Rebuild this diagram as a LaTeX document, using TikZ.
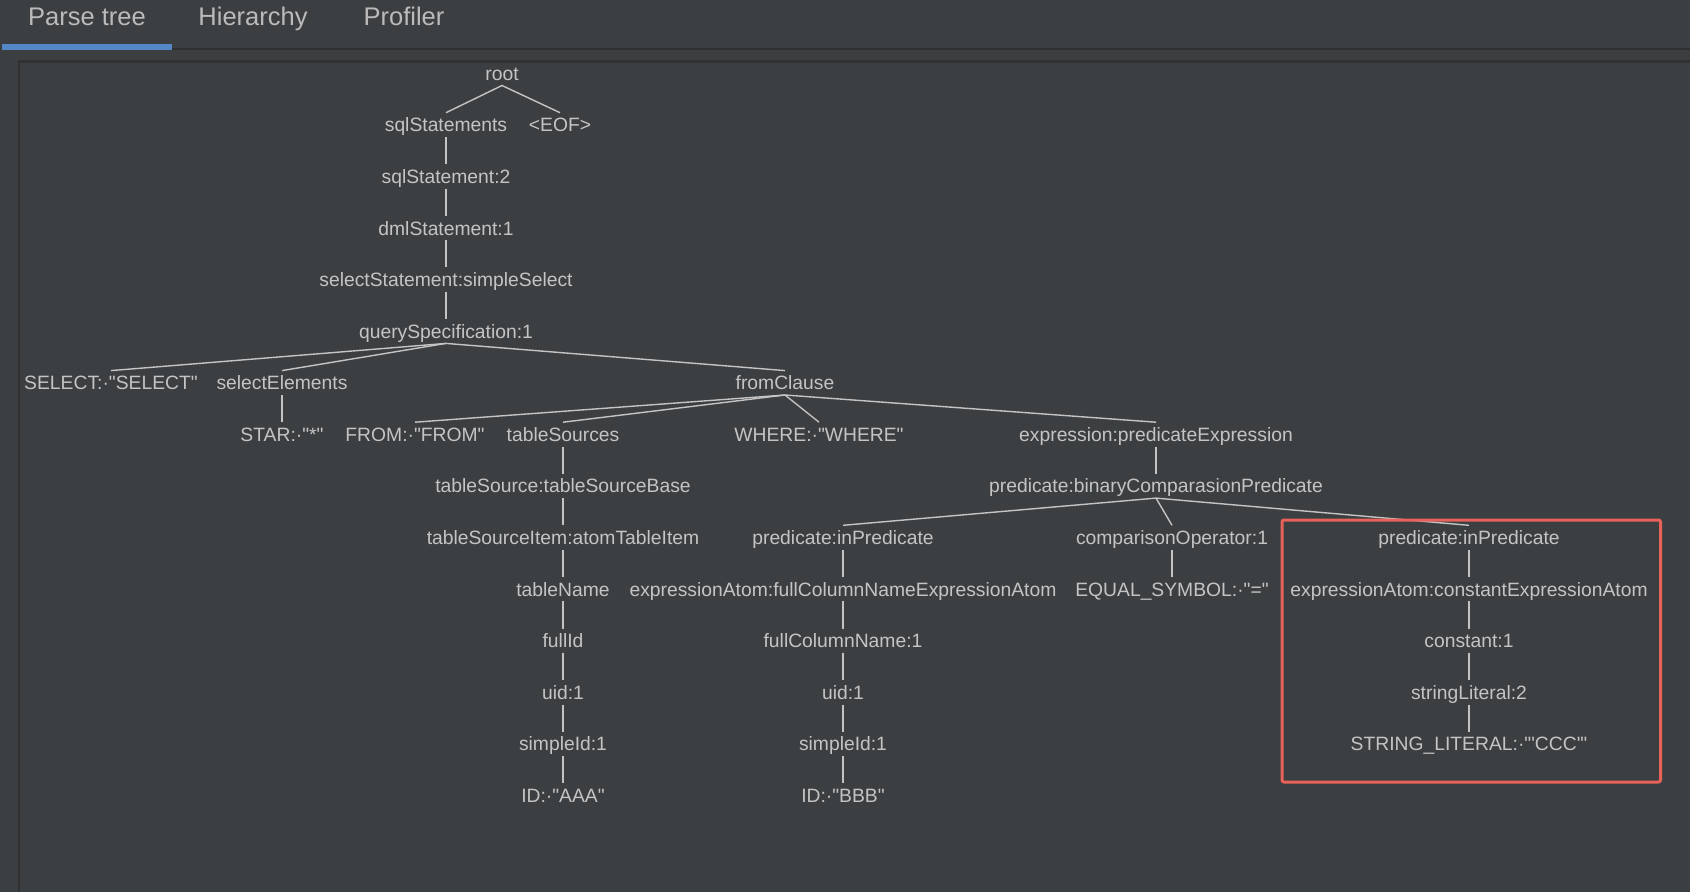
\documentclass[tikz,border=0pt]{standalone}
\usepackage{fontspec}
\setmainfont{Liberation Sans}[Ligatures=TeXOff]
\definecolor{panelbg}{HTML}{3C3F41}
\definecolor{panelrule}{HTML}{2E3032}
\definecolor{treefg}{HTML}{C4C4C4}
\definecolor{tabfg}{HTML}{BBBBBB}
\definecolor{tabblue}{HTML}{5487C6}
\definecolor{markred}{HTML}{E8625A}

\begin{document}
\begin{tikzpicture}[x=1pt,y=-1pt,line cap=round,line join=round,
  lbl/.style={font=\fontsize{19.3}{22}\selectfont,text=treefg,inner sep=0pt,text height=16pt,text depth=2pt,minimum height=24pt},
  tab/.style={font=\fontsize{25.5}{30}\selectfont,text=tabfg,inner sep=0pt,text height=20pt,text depth=4pt},
  branch/.style={draw=treefg,line width=1.4pt,line cap=butt}]
\fill[panelbg] (0,0) rectangle (1690,892);
\useasboundingbox (0,0) rectangle (1690,892);
\node[tab] (tabParse) at (87,17) {Parse tree};
\node[tab] (tabHier) at (253,17) {Hierarchy};
\node[tab] (tabProf) at (404,17) {Profiler};
\fill[tabblue] (2,44) rectangle (172,50);
\draw[panelrule,line width=2.2pt,line cap=butt] (172,49) -- (1690,49);
\draw[panelrule,line width=2.2pt,line cap=butt] (19,892) -- (19,61.5) -- (1690,61.5);
\node[lbl] (root) at (502,73.3) {root};
\node[lbl] (sqlStmts) at (446,124.9) {sqlStatements};
\node[lbl] (eof) at (560,124.9) {<EOF>};
\node[lbl] (sqlStmt) at (446,176.5) {sqlStatement:2};
\node[lbl] (dmlStmt) at (446,228.0) {dmlStatement:1};
\node[lbl] (selectStmt) at (446,279.6) {selectStatement:simpleSelect};
\node[lbl] (querySpec) at (446,331.2) {querySpecification:1};
\node[lbl] (selectKw) at (111,382.8) {SELECT:·"SELECT"};
\node[lbl] (selectElems) at (282,382.8) {selectElements};
\node[lbl] (fromClause) at (785,382.8) {fromClause};
\node[lbl] (star) at (282,434.4) {STAR:·"*"};
\node[lbl] (fromKw) at (415,434.4) {FROM:·"FROM"};
\node[lbl] (tableSources) at (563,434.4) {tableSources};
\node[lbl] (whereKw) at (819,434.4) {WHERE:·"WHERE"};
\node[lbl] (exprPred) at (1156,434.4) {expression:predicateExpression};
\node[lbl] (tableSrc) at (563,485.9) {tableSource:tableSourceBase};
\node[lbl] (binPred) at (1156,485.9) {predicate:binaryComparasionPredicate};
\node[lbl] (tableItem) at (563,537.5) {tableSourceItem:atomTableItem};
\node[lbl] (inPredA) at (843,537.5) {predicate:inPredicate};
\node[lbl] (compOp) at (1172,537.5) {comparisonOperator:1};
\node[lbl] (inPredB) at (1469,537.5) {predicate:inPredicate};
\node[lbl] (tableName) at (563,589.1) {tableName};
\node[lbl] (colAtom) at (843,589.1) {expressionAtom:fullColumnNameExpressionAtom};
\node[lbl] (eqSym) at (1172,589.1) {EQUAL\_SYMBOL:·"="};
\node[lbl] (constAtom) at (1469,589.1) {expressionAtom:constantExpressionAtom};
\node[lbl] (fullId) at (563,640.7) {fullId};
\node[lbl] (fullColName) at (843,640.7) {fullColumnName:1};
\node[lbl] (constant) at (1469,640.7) {constant:1};
\node[lbl] (uidA) at (563,692.3) {uid:1};
\node[lbl] (uidB) at (843,692.3) {uid:1};
\node[lbl] (strLit) at (1469,692.3) {stringLiteral:2};
\node[lbl] (simpleIdA) at (563,743.8) {simpleId:1};
\node[lbl] (simpleIdB) at (843,743.8) {simpleId:1};
\node[lbl] (strTok) at (1469,743.8) {STRING\_LITERAL:·"'CCC'"};
\node[lbl] (idA) at (563,795.4) {ID:·"AAA"};
\node[lbl] (idB) at (843,795.4) {ID:·"BBB"};
\draw[branch] (root.south) -- (sqlStmts.north);
\draw[branch] (root.south) -- (eof.north);
\draw[branch] (sqlStmts.south) -- (sqlStmt.north);
\draw[branch] (sqlStmt.south) -- (dmlStmt.north);
\draw[branch] (dmlStmt.south) -- (selectStmt.north);
\draw[branch] (selectStmt.south) -- (querySpec.north);
\draw[branch] (querySpec.south) -- (selectKw.north);
\draw[branch] (querySpec.south) -- (selectElems.north);
\draw[branch] (querySpec.south) -- (fromClause.north);
\draw[branch] (selectElems.south) -- (star.north);
\draw[branch] (fromClause.south) -- (fromKw.north);
\draw[branch] (fromClause.south) -- (tableSources.north);
\draw[branch] (fromClause.south) -- (whereKw.north);
\draw[branch] (fromClause.south) -- (exprPred.north);
\draw[branch] (tableSources.south) -- (tableSrc.north);
\draw[branch] (tableSrc.south) -- (tableItem.north);
\draw[branch] (tableItem.south) -- (tableName.north);
\draw[branch] (tableName.south) -- (fullId.north);
\draw[branch] (fullId.south) -- (uidA.north);
\draw[branch] (uidA.south) -- (simpleIdA.north);
\draw[branch] (simpleIdA.south) -- (idA.north);
\draw[branch] (exprPred.south) -- (binPred.north);
\draw[branch] (binPred.south) -- (inPredA.north);
\draw[branch] (binPred.south) -- (compOp.north);
\draw[branch] (binPred.south) -- (inPredB.north);
\draw[branch] (inPredA.south) -- (colAtom.north);
\draw[branch] (colAtom.south) -- (fullColName.north);
\draw[branch] (fullColName.south) -- (uidB.north);
\draw[branch] (uidB.south) -- (simpleIdB.north);
\draw[branch] (simpleIdB.south) -- (idB.north);
\draw[branch] (compOp.south) -- (eqSym.north);
\draw[branch] (inPredB.south) -- (constAtom.north);
\draw[branch] (constAtom.south) -- (constant.north);
\draw[branch] (constant.south) -- (strLit.north);
\draw[branch] (strLit.south) -- (strTok.north);
\draw[markred,line width=3pt,rounded corners=2pt] (1282,520) rectangle (1660.5,782);
\end{tikzpicture}
\end{document}
